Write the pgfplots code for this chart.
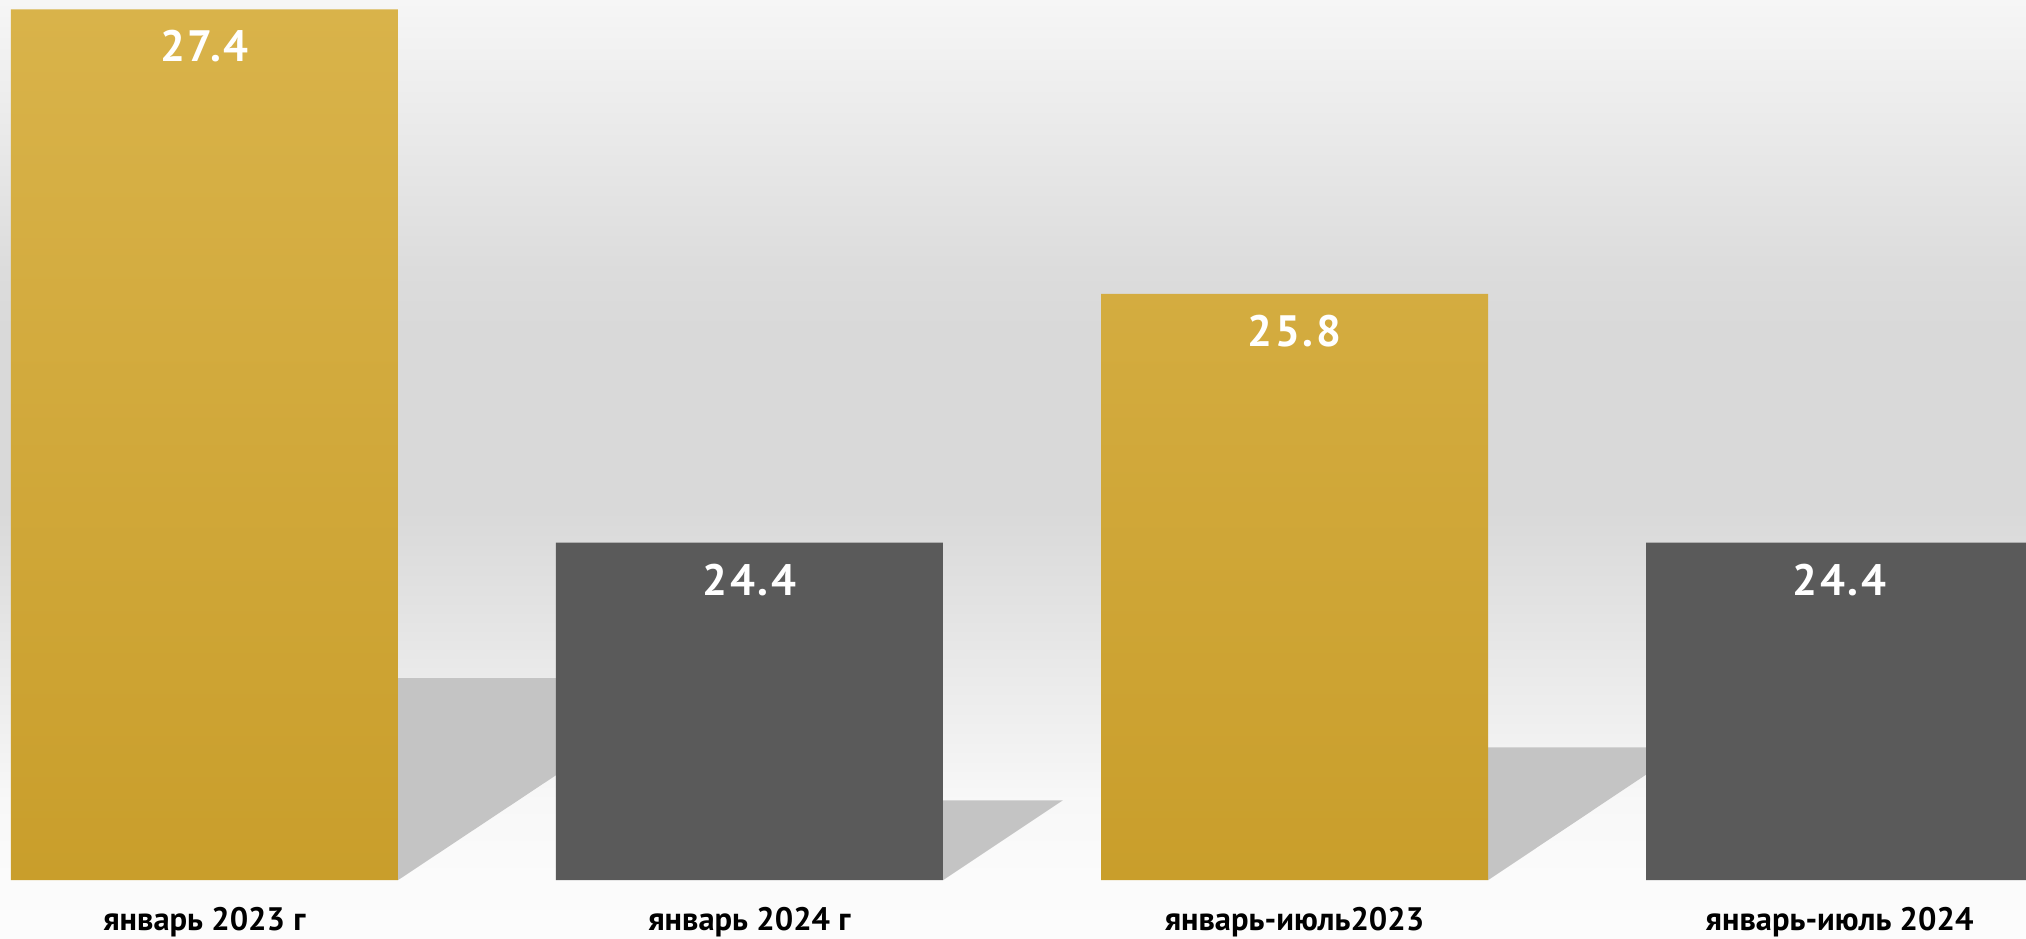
\documentclass[border=0pt]{standalone}
\usepackage{pgfplots}
\pgfplotsset{compat=1.18}
\usepackage{fontspec}
\setmainfont{PT Sans}
\newfontfamily\valfont[LetterSpace=6]{PT Sans}
\definecolor{goldtop}{HTML}{D9B34A}
\definecolor{goldbot}{HTML}{C99E2B}
\definecolor{darkbar}{HTML}{5A5A5A}
\definecolor{shadowgray}{HTML}{C4C4C4}
\newcommand{\bgseg}[4]{% y1 (px from top), y2, color top, color bottom
  \fill[top color=#3, bottom color=#4, draw=none]
    (0mm,{(880-#1)*0.2mm+0.05mm}) rectangle (405.2mm,{(880-#2)*0.2mm-0.05mm});}
\begin{document}
\begin{tikzpicture}
% background gradient (1 px = 0.2 mm)
\definecolor{c0}{HTML}{F6F6F6}
\definecolor{c1}{HTML}{E8E8E8}
\definecolor{c2}{HTML}{DCDCDC}
\definecolor{c3}{HTML}{D9D9D9}
\definecolor{c4}{HTML}{E2E2E2}
\definecolor{c5}{HTML}{ECECEC}
\definecolor{c6}{HTML}{F4F4F4}
\definecolor{c7}{HTML}{F8F8F8}
\definecolor{c8}{HTML}{FBFBFB}
\definecolor{c9}{HTML}{FCFCFC}
\bgseg{0}{150}{c0}{c1}
\bgseg{150}{270}{c1}{c2}
\bgseg{270}{330}{c2}{c3}
\bgseg{330}{510}{c3}{c3}
\bgseg{510}{600}{c3}{c4}
\bgseg{600}{690}{c4}{c5}
\bgseg{690}{767}{c5}{c6}
\bgseg{767}{800}{c6}{c7}
\bgseg{800}{880}{c7}{c8}
\bgseg{880}{938}{c8}{c9}
\useasboundingbox (0,-11.6mm) rectangle (405.2mm,176mm);
\begin{axis}[
  scale only axis,
  width=405.2mm, height=176mm,
  xmin=-0.375, xmax=3.342,
  ymin=22.5, ymax=27.452,
  axis line style={draw=none},
  major tick length=0pt,
  ytick=\empty,
  xtick={0,1,2,3},
  xticklabels={январь 2023 г, январь 2024 г, январь-июль2023, январь-июль 2024},
  xticklabel style={anchor=base, inner sep=0pt, yshift=-10mm, font=\bfseries\fontsize{18.5}{20}\selectfont, text=black},
  /pgf/number format/assume math mode=true,
]
% floor shadows
\addplot[fill=shadowgray, draw=none, forget plot] coordinates {(0.355,22.5) (0.355,23.637) (0.913,23.637)} --cycle;
\addplot[fill=shadowgray, draw=none, forget plot] coordinates {(1.355,22.5) (1.355,22.95) (1.575,22.95)} --cycle;
\addplot[fill=shadowgray, draw=none, forget plot] coordinates {(2.355,22.5) (2.355,23.248) (2.72,23.248)} --cycle;
\addplot[fill=shadowgray, draw=none, forget plot] coordinates {(3.355,22.5) (3.355,22.95) (3.575,22.95)} --cycle;
% bars
\addplot[ybar, bar width=0.71, bar shift=0pt, draw=none, top color=goldtop, bottom color=goldbot,
  nodes near coords={\pgfmathprintnumber[fixed,precision=1]{\pgfplotspointmeta}},
  nodes near coords style={anchor=base, yshift=-10.5mm, text=white, font=\valfont\bfseries\fontsize{25}{28}\selectfont}]
  coordinates {(0,27.4) (2,25.8)};
\addplot[ybar, bar width=0.71, bar shift=0pt, draw=none, fill=darkbar,
  nodes near coords={\pgfmathprintnumber[fixed,precision=1]{\pgfplotspointmeta}},
  nodes near coords style={anchor=base, yshift=-10.5mm, text=white, font=\valfont\bfseries\fontsize{25}{28}\selectfont}]
  coordinates {(1,24.4) (3,24.4)};
\end{axis}
\end{tikzpicture}
\end{document}
